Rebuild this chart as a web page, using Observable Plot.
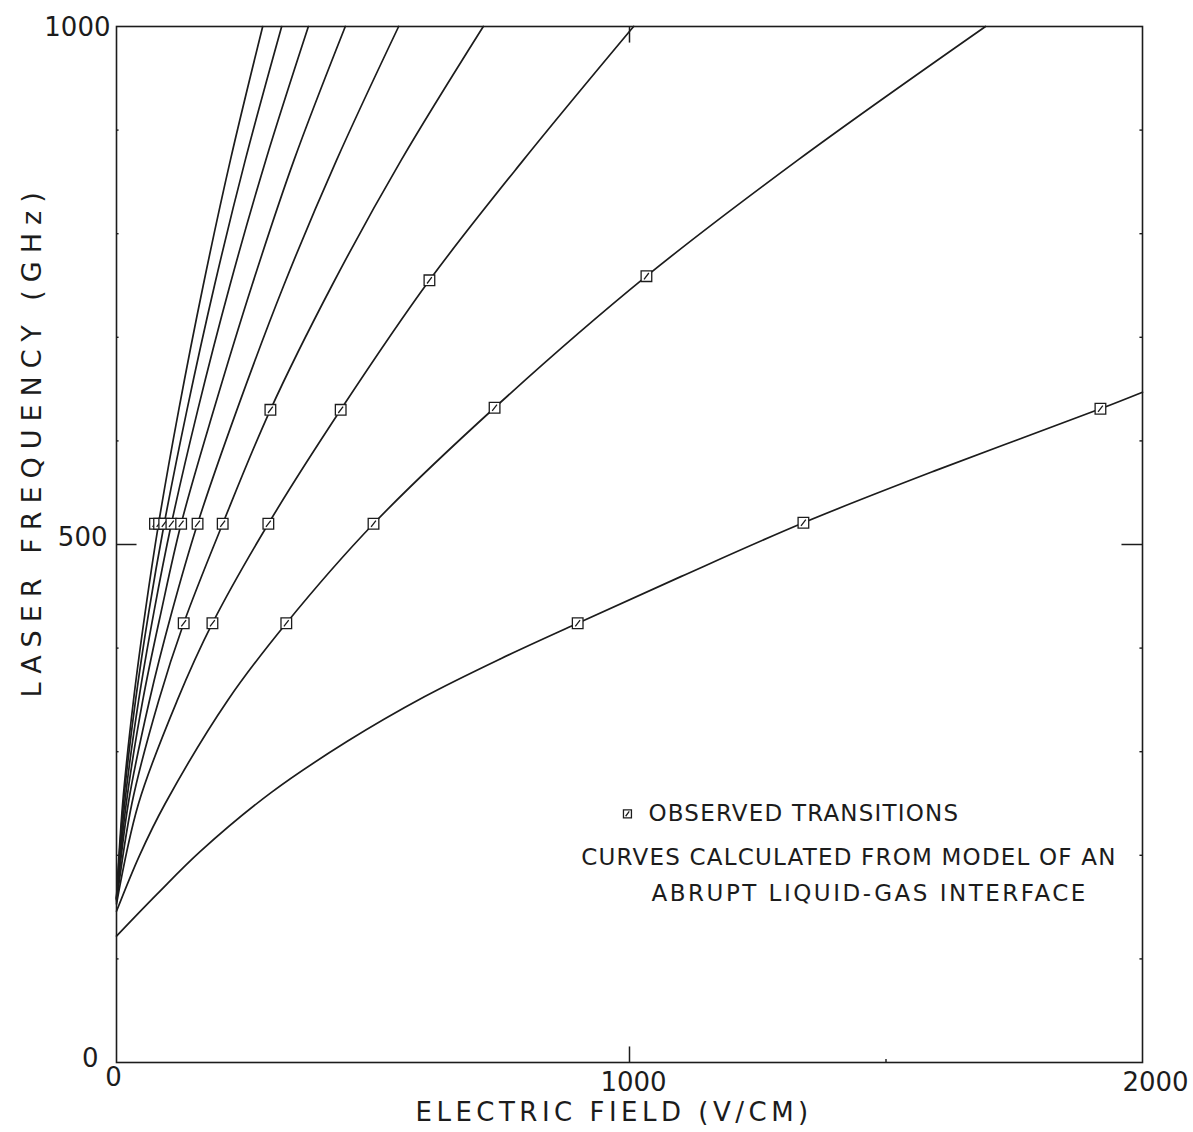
<!DOCTYPE html>
<html>
<head>
<meta charset="utf-8">
<script src="https://cdn.jsdelivr.net/npm/d3@7"></script>
<script src="https://cdn.jsdelivr.net/npm/@observablehq/plot@0.6"></script>
<style>
  body { margin: 0; background: #fff; }
  #chart { width: 1193px; height: 1132px; }
</style>
</head>
<body>
<div id="chart"></div>
<script>
// Calculated transition frequency (GHz) against electric field (V/cm),
// one pair of arrays per curve, from the lowest curve to the steepest.
const c1Field = [0, 80, 164, 300, 450, 600, 750, 899, 1100, 1339, 1600, 1918, 2000];
const c1Freq  = [122, 163, 204, 260, 310, 353, 390, 424, 469, 521, 572, 631, 647];

const c2Field = [0, 45, 95, 216, 331, 501, 737, 1033, 1328, 1694];
const c2Freq  = [146, 200, 250, 349, 424, 520, 632, 759, 871, 1000];

const c3Field = [0, 43, 118, 187, 296, 437, 610, 793, 1008];
const c3Freq  = [153, 250, 349, 424, 520, 630, 755, 871, 1000];

const c4Field = [0, 30, 82, 131, 207, 300, 420, 555, 715];
const c4Freq  = [155, 250, 349, 424, 520, 630, 750, 871, 1000];

const c5Field = [0, 23, 64, 108, 158, 234, 326, 429, 550];
const c5Freq  = [157, 250, 349, 435, 520, 629, 750, 871, 1000];

const c6Field = [0, 19, 51, 87, 126, 189, 264, 346, 446];
const c6Freq  = [157, 250, 349, 435, 520, 629, 750, 871, 1000];

const c7Field = [0, 16, 43, 73, 107, 158, 221, 291, 374];
const c7Freq  = [158, 250, 349, 435, 520, 629, 750, 871, 1000];

const c8Field = [0, 13.5, 37, 63, 93, 137, 191, 251, 322];
const c8Freq  = [158, 250, 349, 435, 520, 629, 750, 871, 1000];

const c9Field = [0, 12, 33, 56, 82, 121, 169, 222, 285];
const c9Freq  = [159, 250, 349, 435, 520, 629, 750, 871, 1000];

// Observed transitions (squares)
const obsField = [131, 187, 331, 899,
                  75, 83, 93, 107, 126, 158, 207, 296, 501, 1339,
                  300, 437, 737, 1918,
                  610, 1033];
const obsFreq  = [424, 424, 424, 424,
                  520, 520, 520, 520, 520, 520, 520, 520, 520, 521,
                  630, 630, 632, 631,
                  755, 759];

const yTicks = [0, 500, 1000];
const xTicks = [0, 1000, 2000];
const minorFreqTicks = [100, 200, 300, 400, 600, 700, 800, 900];

const yTitle = "LASER FREQUENCY (GHz)";
const xTitle = "ELECTRIC FIELD (V/CM)";
const keyLines = ["OBSERVED TRANSITIONS", "CURVES CALCULATED FROM MODEL OF AN", "ABRUPT LIQUID-GAS INTERFACE"];

function series(id, xs, ys) { return xs.map((x, i) => ({ id, field: x, freq: ys[i] })); }

const lines = [
  ...series(1, c1Field, c1Freq),
  ...series(2, c2Field, c2Freq),
  ...series(3, c3Field, c3Freq),
  ...series(4, c4Field, c4Freq),
  ...series(5, c5Field, c5Freq),
  ...series(6, c6Field, c6Freq),
  ...series(7, c7Field, c7Freq),
  ...series(8, c8Field, c8Freq),
  ...series(9, c9Field, c9Freq)
];
const observed = obsField.map((x, i) => ({ field: x, freq: obsFreq[i] }));

// open square with a short diagonal stroke inside, as plotted for the observations
const markSymbol = {
  draw(ctx, size) {
    const s = Math.sqrt(size) / 2;
    ctx.moveTo(-s, -s); ctx.lineTo(s, -s); ctx.lineTo(s, s); ctx.lineTo(-s, s); ctx.closePath();
    ctx.moveTo(s * 0.45, -s * 0.6); ctx.lineTo(-s * 0.45, s * 0.6);
  }
};

const font = "DejaVu Sans, sans-serif";
const ink = "#1c1c1c";
const fmt = d => String(d);

const chart = Plot.plot({
  width: 1193,
  height: 1132,
  marginLeft: 116,
  marginRight: 51,
  marginTop: 26,
  marginBottom: 70,
  x: { domain: [0, 2000], axis: null },
  y: { domain: [0, 1000], axis: null },
  style: { fontFamily: font, color: ink, background: "#fff" },
  marks: [
    Plot.frame({ stroke: ink, strokeWidth: 1.6 }),
    // minor ticks every 100 GHz on both sides
    Plot.ruleY(minorFreqTicks, { x1: 0, x2: 5, stroke: ink, strokeWidth: 1.4 }),
    Plot.ruleY(minorFreqTicks, { x1: 1995, x2: 2000, stroke: ink, strokeWidth: 1.4 }),
    // major ticks, drawn inward
    Plot.ruleY([500], { x1: 0, x2: 40, stroke: ink, strokeWidth: 1.5 }),
    Plot.ruleY([500], { x1: 1960, x2: 2000, stroke: ink, strokeWidth: 1.5 }),
    Plot.ruleX([1000], { y1: 0, y2: 15, stroke: ink, strokeWidth: 1.5 }),
    Plot.ruleX([1000], { y1: 984, y2: 1000, stroke: ink, strokeWidth: 1.5 }),
    Plot.ruleX([1500], { y1: 0, y2: 3, stroke: ink, strokeWidth: 1.4 }),
    // tick labels
    Plot.axisY([yTicks[2]], { tickSize: 0, tickPadding: 6, fontSize: 26, label: null, tickFormat: fmt, dy: 1 }),
    Plot.axisY([yTicks[1]], { tickSize: 0, tickPadding: 9, fontSize: 26, label: null, tickFormat: fmt, dy: -7 }),
    Plot.axisY([yTicks[0]], { tickSize: 0, tickPadding: 18, fontSize: 26, label: null, tickFormat: fmt, dy: -4 }),
    Plot.axisX([xTicks[0]], { tickSize: 0, tickPadding: 5, fontSize: 26, label: null, tickFormat: fmt, dx: -3 }),
    Plot.axisX([xTicks[1]], { tickSize: 0, tickPadding: 10, fontSize: 26, label: null, tickFormat: fmt, dx: 4 }),
    Plot.axisX([xTicks[2]], { tickSize: 0, tickPadding: 10, fontSize: 26, label: null, tickFormat: fmt, dx: 13 }),
    // axis titles
    Plot.text([yTitle], {
      x: -164, y: 600, rotate: -90, text: d => d,
      fontSize: 27, fill: ink
    }),
    Plot.text([xTitle], {
      x: 970, y: -48, text: d => d,
      fontSize: 26, fill: ink
    }),
    // calculated curves
    Plot.line(lines, {
      x: "field", y: "freq", z: "id", curve: "catmull-rom",
      stroke: ink, strokeWidth: 1.7
    }),
    // observed transitions
    Plot.dot(observed, {
      x: "field", y: "freq", symbol: markSymbol, r: 6,
      stroke: ink, strokeWidth: 1.3, fill: "#fff"
    }),
    // key
    Plot.dot([keyLines[0]], { x: 996, y: 240, symbol: markSymbol, r: 4.5, stroke: ink, strokeWidth: 1.3, fill: "#fff" }),
    Plot.text([keyLines[0]], { x: 1037, y: 240, text: d => d, textAnchor: "start", fontSize: 23, fill: ink }),
    Plot.text([keyLines[1]], { x: 906, y: 198, text: d => d, textAnchor: "start", fontSize: 23, fill: ink }),
    Plot.text([keyLines[2]], { x: 1043, y: 163, text: d => d, textAnchor: "start", fontSize: 23, fill: ink })
  ]
});

// widen the lettering of the titles and key, in the spaced style of the plotter
const spacing = new Map([
  [yTitle, "8px"],
  [xTitle, "4.5px"],
  [keyLines[0], "1.2px"],
  [keyLines[1], "1.2px"],
  [keyLines[2], "2.5px"]
]);
d3.select(chart).selectAll("text").each(function () {
  const ls = spacing.get(this.textContent);
  if (ls) this.style.letterSpacing = ls;
});

document.getElementById("chart").appendChild(chart);
</script>
</body>
</html>
